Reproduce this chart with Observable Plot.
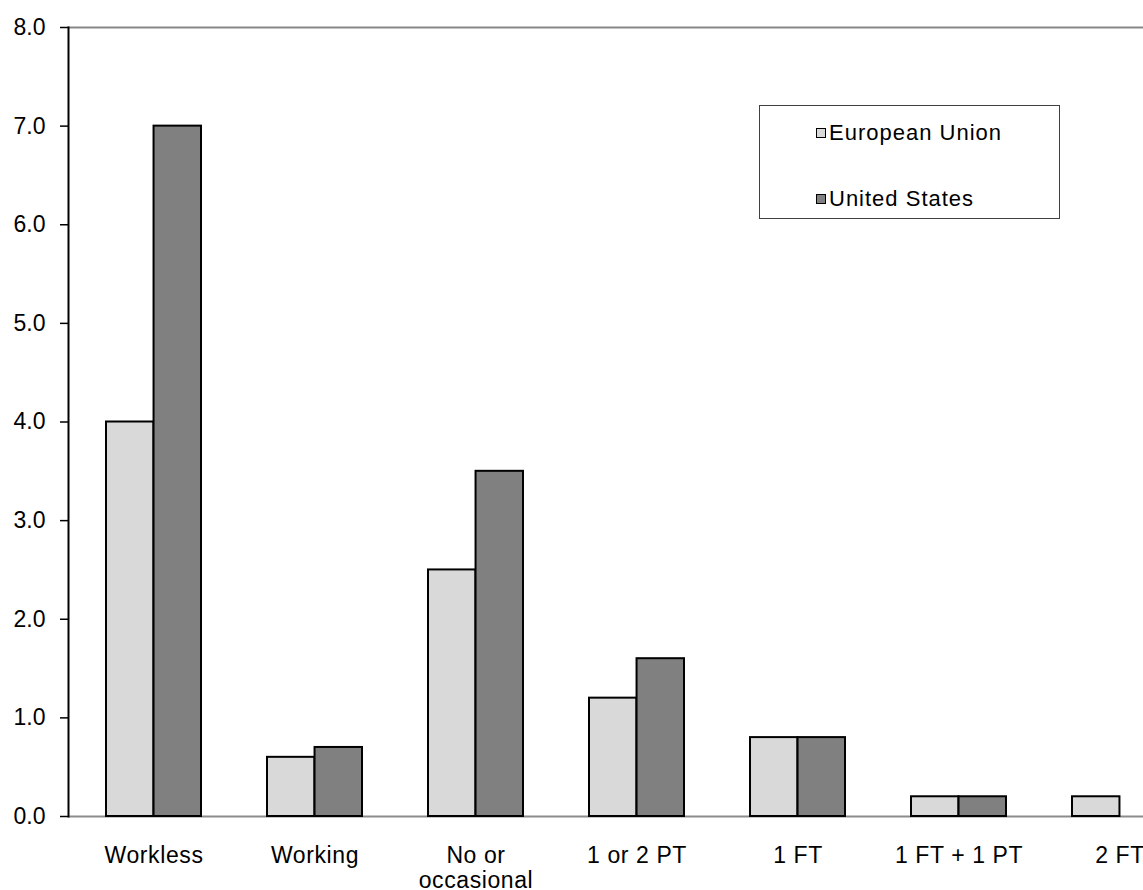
<!DOCTYPE html>
<html>
<head>
<meta charset="utf-8">
<script src="https://cdn.jsdelivr.net/npm/d3@7"></script>
<script src="https://cdn.jsdelivr.net/npm/@observablehq/plot@0.6"></script>
<style>
  html, body { margin: 0; padding: 0; background: #fff; overflow: hidden; }
  #chart { position: relative; width: 1143px; height: 890px; overflow: hidden; font-family: "Liberation Sans", Arial, sans-serif; }
  #chart svg { display: block; max-width: none !important; width: 1212px !important; height: 890px !important; }
  #chart g[aria-label="x-axis tick label"] text { letter-spacing: 0.6px; }
  .legend { position: absolute; left: 759px; top: 105px; width: 301px; height: 114px; border: 1px solid #404040; background: #fff; box-sizing: border-box; }
  .legend .row { position: absolute; left: 56px; display: flex; align-items: center; font-size: 22px; letter-spacing: 1px; color: #000; white-space: nowrap; }
  .legend .sw { width: 8px; height: 8px; border: 1.5px solid #000; margin-right: 3px; }
</style>
</head>
<body>
<div id="chart"></div>
<script>
// Household work-intensity categories along the x axis
const categories = ["Workless", "Working", "No or occasional", "1 or 2 PT", "1 FT", "1 FT + 1 PT", "2 FT"];
const categoryLabels = ["Workless", "Working", "No or\noccasional", "1 or 2 PT", "1 FT", "1 FT + 1 PT", "2 FT"];

// Series
const seriesNames = ["European Union", "United States"];
const seriesColors = ["#d9d9d9", "#808080"];
const euValues = [4.0, 0.6, 2.5, 1.2, 0.8, 0.2, 0.2];
const usValues = [7.0, 0.7, 3.5, 1.6, 0.8, 0.2, null];

// Y axis ticks
const yTicks = [0, 1, 2, 3, 4, 5, 6, 7, 8];

const width = 1212, height = 890;
const marginLeft = 68, marginRight = 7, marginTop = 27, marginBottom = 74;

const xOptions = {
  type: "band",
  domain: categories,
  range: [marginLeft, width - marginRight],
  paddingInner: 0.413,
  paddingOuter: 0.216
};
// Each series takes one half of its category band
const half = Plot.scale({x: xOptions}).bandwidth / 2;

const rows = (values, s) => categories
  .map((c, i) => ({category: c, series: seriesNames[s], value: values[i]}))
  .filter(d => d.value != null);
const euData = rows(euValues, 0);
const usData = rows(usValues, 1);

const labelOf = new Map(categories.map((c, i) => [c, categoryLabels[i]]));

const chart = Plot.plot({
  width, height, marginLeft, marginRight, marginTop, marginBottom,
  style: {fontFamily: "'Liberation Sans', Arial, sans-serif", fontSize: "23px", color: "#000", background: "#fff"},
  x: {...xOptions, axis: null},
  y: {domain: [0, 8], axis: null},
  color: {domain: seriesNames, range: seriesColors},
  marks: [
    Plot.ruleY([8], {stroke: "#878787", strokeWidth: 2}),
    Plot.ruleY([0], {stroke: "#8c8c8c", strokeWidth: 2}),
    Plot.barY(euData, {x: "category", y: "value", fill: "series", stroke: "#000", strokeWidth: 2, insetLeft: 0, insetRight: half}),
    Plot.barY(usData, {x: "category", y: "value", fill: "series", stroke: "#000", strokeWidth: 2, insetLeft: half, insetRight: 0}),
    Plot.frame({anchor: "left", stroke: "#000", strokeWidth: 2}),
    Plot.axisY({
      ticks: yTicks, tickFormat: d3.format(".1f"), tickSize: 8, tickPadding: 15,
      fontSize: 23, stroke: "#000", strokeWidth: 1.5, label: null
    }),
    Plot.axisX({
      tickSize: 0, tickPadding: 29, fontSize: 23, lineHeight: 1.08,
      tickFormat: d => labelOf.get(d), label: null
    })
  ]
});

const root = document.getElementById("chart");
root.appendChild(chart);

// Legend box
const legend = document.createElement("div");
legend.className = "legend";
seriesNames.forEach((name, i) => {
  const row = document.createElement("div");
  row.className = "row";
  row.style.top = (i === 0 ? 14 : 80) + "px";
  const sw = document.createElement("span");
  sw.className = "sw";
  sw.style.background = seriesColors[i];
  const label = document.createElement("span");
  label.textContent = name;
  row.appendChild(sw);
  row.appendChild(label);
  legend.appendChild(row);
});
root.appendChild(legend);
</script>
</body>
</html>
